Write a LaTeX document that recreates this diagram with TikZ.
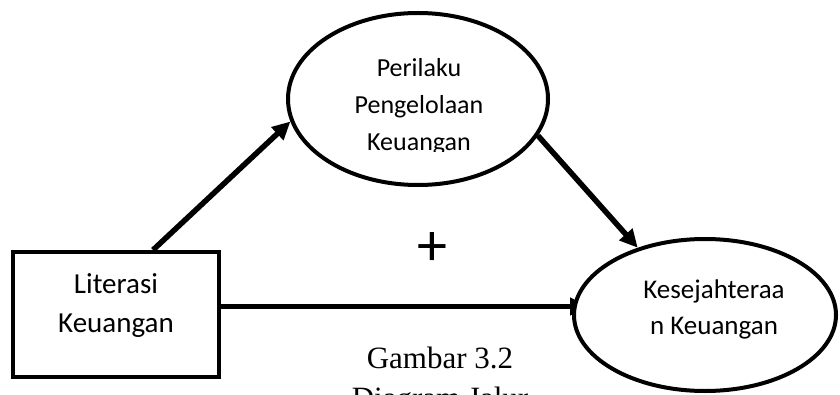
\documentclass[tikz,border=0pt]{standalone}
\usepackage{fontspec}
\setmainfont{Liberation Serif}
\newfontfamily\calfont{Carlito}
\usetikzlibrary{shapes.geometric,arrows.meta}
\pgfdeclarelayer{back}
\pgfdeclarelayer{mid}
\pgfsetlayers{back,mid,main}
\tikzset{
  shape line/.style={draw=black,line width=4pt,fill=white},
  ellnode/.style={shape line,ellipse,inner sep=0pt},
  boxnode/.style={shape line,rectangle,inner sep=0pt},
  lbl/.style={align=center,inner sep=0pt},
  arr/.style={line width=5.5pt,-{Triangle[length=18pt,width=17pt]}},
  captext/.style={font=\fontsize{31}{40}\selectfont,inner sep=0pt,anchor=base}
}
\begin{document}
\begin{tikzpicture}[x=1pt,y=1pt]
\useasboundingbox (0,0) rectangle (840,394);
\begin{pgfonlayer}{back}
\fill[white] (0,0) rectangle (840,394);
\end{pgfonlayer}
% nodes
\node[ellnode,minimum width=260pt,minimum height=172pt] (top) at (418,295) {};
\begin{scope}
  \clip (250,242) rectangle (600,394);
  \node[lbl,font=\calfont\fontsize{26}{37}\selectfont] (toptext) at (419,287) {Perilaku\\Pengelolaan\\Keuangan};
\end{scope}
\node[boxnode,minimum width=206pt,minimum height=125pt] (lit) at (116,79.5) {};
\node[lbl,font=\calfont\fontsize{29}{39}\selectfont] (littext) at (116,88) {Literasi\\Keuangan};
\node[ellnode,minimum width=262pt,minimum height=152pt] (kes) at (705,79) {};
\node[lbl,font=\calfont\fontsize{27}{36}\selectfont] (kestext) at (714,85) {Kesejahteraa\\n Keuangan};
\node[font=\calfont\fontsize{60}{60}\selectfont,inner sep=0pt] (plus) at (432,145) {+};
\node[captext] (cap1) at (440,26) {Gambar 3.2};
\node[captext] (cap2) at (440,-14) {Diagram Jalur};
% connectors
\begin{pgfonlayer}{mid}
\draw[arr] ([xshift=37pt]lit.north) -- (top.190);
\draw[arr] (top.-17) -- (kes.135);
\draw[arr] ([yshift=8pt]lit.east) -- ([yshift=8pt,xshift=16pt]lit.east -| kes.west);
\end{pgfonlayer}
\end{tikzpicture}
\end{document}
